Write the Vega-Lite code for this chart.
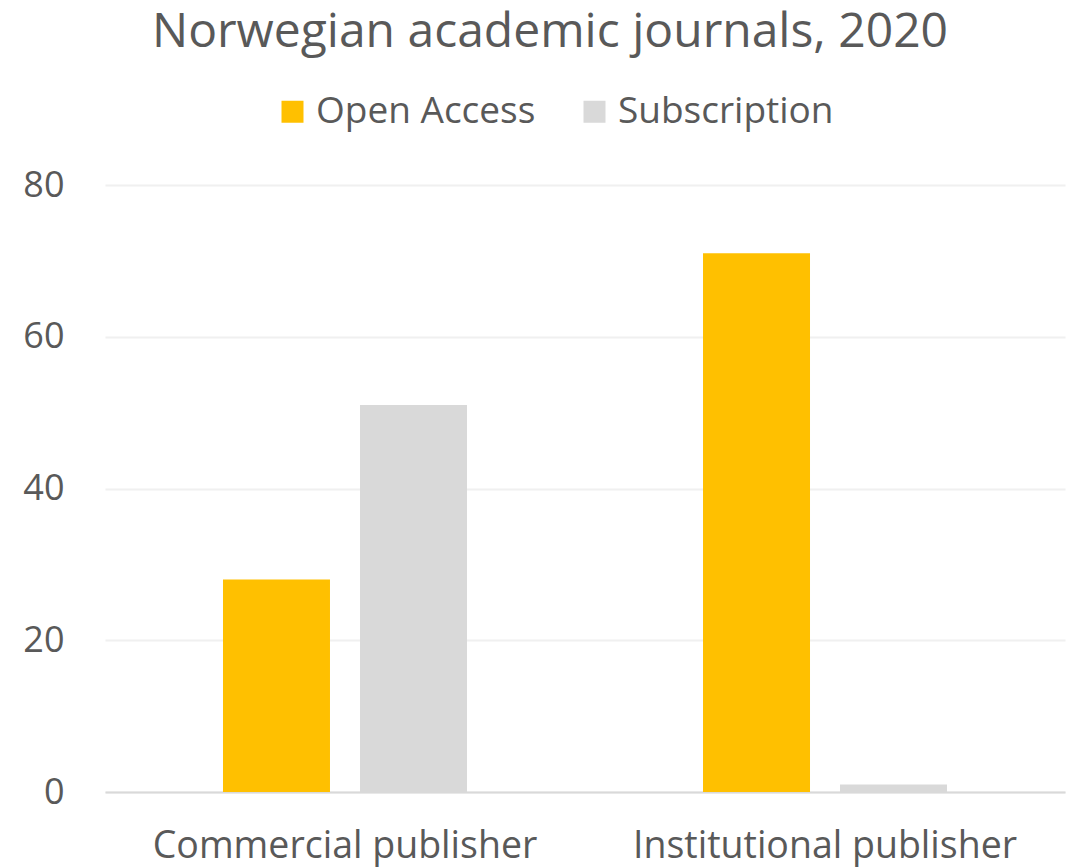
{
  "$schema": "https://vega.github.io/schema/vega-lite/v6.json",
  "width": 960,
  "height": 607,
  "autosize": "none",
  "padding": {"left": 105, "top": 185, "right": 6, "bottom": 75},
  "background": "white",
  "title": {
    "text": "Norwegian academic journals, 2020",
    "fontSize": 48,
    "font": "Open Sans",
    "fontWeight": "normal",
    "color": "#595959",
    "anchor": "middle",
    "dx": -35,
    "offset": 36
  },
  "data": {
    "values": [
      {"publisher": "Commercial publisher", "type": "Open Access", "journals": 28},
      {"publisher": "Commercial publisher", "type": "Subscription", "journals": 51},
      {"publisher": "Institutional publisher", "type": "Open Access", "journals": 71},
      {"publisher": "Institutional publisher", "type": "Subscription", "journals": 1}
    ]
  },
  "mark": {"type": "bar"},
  "encoding": {
    "x": {
      "field": "publisher",
      "type": "nominal",
      "sort": null,
      "title": null,
      "scale": {"paddingInner": 0.4917, "paddingOuter": 0.2458},
      "axis": {
        "labelAngle": 0,
        "labelFont": "Open Sans",
        "labelFontSize": 37.5,
        "labelColor": "#595959",
        "labelPadding": 35,
        "labelLimit": 0,
        "ticks": false,
        "domainColor": "#d9d9d9",
        "domainWidth": 2,
        "grid": false
      }
    },
    "xOffset": {
      "field": "type",
      "type": "nominal",
      "scale": {"paddingInner": 0.219, "paddingOuter": 0}
    },
    "y": {
      "field": "journals",
      "type": "quantitative",
      "title": null,
      "scale": {"domain": [0, 80]},
      "axis": {
        "values": [0, 20, 40, 60, 80],
        "labelFont": "Open Sans",
        "labelFontSize": 36,
        "labelColor": "#595959",
        "labelPadding": 41,
        "ticks": false,
        "domain": false,
        "gridColor": "#f0f0f0",
        "gridWidth": 2
      }
    },
    "color": {
      "field": "type",
      "type": "nominal",
      "title": null,
      "scale": {"domain": ["Open Access", "Subscription"], "range": ["#FFC000", "#D9D9D9"]},
      "legend": {
        "orient": "none",
        "direction": "horizontal",
        "legendX": 169,
        "legendY": -92,
        "symbolType": "square",
        "symbolSize": 484,
        "symbolStrokeWidth": 0,
        "labelFont": "Open Sans",
        "labelFontSize": 37,
        "labelColor": "#595959",
        "labelOffset": 5,
        "labelLimit": 0,
        "columnPadding": 40
      }
    }
  },
  "config": {
    "view": {"stroke": null},
    "axisX": {"domainCap": "butt"}
  }
}
